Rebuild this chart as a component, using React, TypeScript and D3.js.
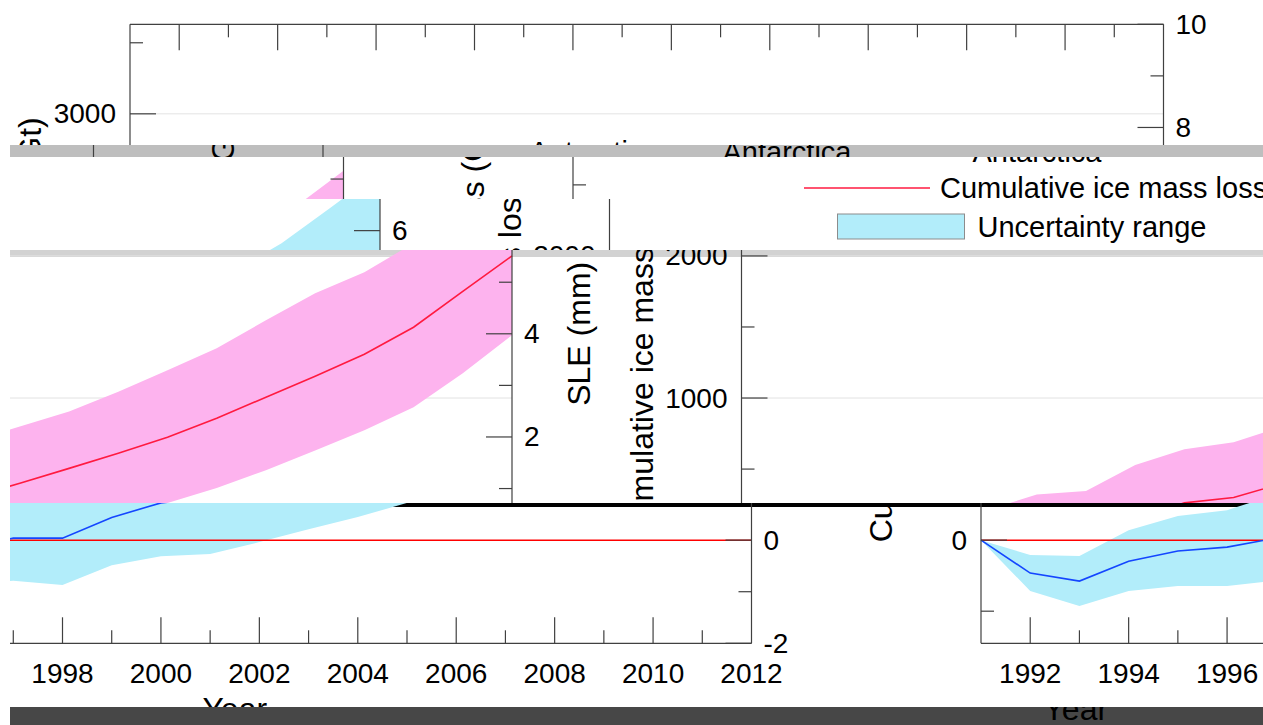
import React from "react";
import * as d3 from "d3";

// ---- data (Gt of cumulative ice mass loss, Antarctica) ----
const YEARS = [1991, 1992, 1993, 1994, 1995, 1996, 1997, 1998, 1999, 2000, 2001, 2002, 2003, 2004, 2005, 2006, 2007, 2008, 2009, 2010, 2011, 2012];
const MASS_LOSS = [0, -232, -288, -148, -77, -49, 14, 14, 160, 262, 300, 400, 505, 612, 724, 858, 1006, 1153, 1308, 1498, 1751, 2000];
const LOWER = [0, -358, -464, -358, -323, -323, -285, -316, -176, -113, -98, -14, 77, 162, 262, 366, 492, 630, 774, 935, 1174, 1442];
const UPPER = [0, -105, -112, 70, 169, 211, 322, 345, 528, 640, 689, 800, 905, 1045, 1195, 1350, 1547, 1737, 1885, 2090, 2340, 2600];

const YEAR_LABELS = [1992, 1994, 1996, 1998, 2000, 2002, 2004, 2006, 2008, 2010, 2012];
const GT_MAJOR = [0, 1000, 2000, 3000];
const GT_MINOR = [-500, 500, 1500, 2500, 3500];
const SLE_MAJOR = [-2, 0, 2, 4, 6, 8, 10];
const SLE_MINOR = [-1, 1, 3, 5, 7, 9];

const TITLE = "Antarctica";
const LINE_LABEL = "Cumulative ice mass loss";
const BAND_LABEL = "Uncertainty range";
const Y_LEFT_LABEL = "Cumulative ice mass loss (Gt)";
const Y_RIGHT_LABEL = "SLE (mm)";
const X_LABEL = "Year";

// ---- layout ----
const W = 1263;
const H = 725;
const FONT = "'Liberation Sans', Arial, Helvetica, sans-serif";
const AXIS = "#404040";
const MAJOR = 26;
const MINOR = 13;

const x = d3.scaleLinear().domain([1991, 2012]).range([130, 1163.5]);
const ySle = d3.scaleLinear().domain([-2, 10]).range([643.3, 24.3]);
const yGt = d3.scaleLinear().domain([-2 * 363, 10 * 363]).range([643.3, 24.3]);

type Row = { yr: number; mid: number; lo: number; hi: number };
const rows: Row[] = YEARS.map((yr, i) => ({ yr, mid: MASS_LOSS[i], lo: LOWER[i], hi: UPPER[i] }));

const bandPath = d3
  .area<Row>()
  .x((d) => x(d.yr))
  .y0((d) => yGt(d.lo))
  .y1((d) => yGt(d.hi))(rows) as string;
const linePath = d3
  .line<Row>()
  .x((d) => x(d.yr))
  .y((d) => yGt(d.mid))(rows) as string;

type Palette = { band: string; line: string };
const PINK: Palette = { band: "#fdb3ee", line: "#ff1a40" };
const CYAN: Palette = { band: "#b2edfa", line: "#1446ff" };

// horizontal bands of the figure, each rolled sideways by its own offset
const STRIPS = [
  { y0: 0, y1: 145, shift: 0, x0: 0, bg: "", pal: CYAN },
  { y0: 145, y1: 157, shift: 193, x0: 10, bg: "#bebebe", pal: CYAN },
  { y0: 157, y1: 199, shift: 443, x0: 10, bg: "", pal: PINK },
  { y0: 199, y1: 250, shift: 479.5, x0: 10, bg: "", pal: CYAN },
  { y0: 250, y1: 257, shift: 611.5, x0: 10, bg: "#d2d2d2", pal: PINK },
  { y0: 257, y1: 503, shift: 611.5, x0: 10, bg: "", pal: PINK },
  { y0: 503, y1: 507, shift: 851, x0: 10, bg: "#000000", pal: CYAN },
  { y0: 507, y1: 707, shift: 851, x0: 10, bg: "", pal: CYAN },
  { y0: 707, y1: 725, shift: 429, x0: 10, bg: "#474747", pal: CYAN },
];

type Win = { x0: number; x1: number; y0: number; y1: number };
const hits = (w: Win, bx0: number, bx1: number, by0: number, by1: number) =>
  bx1 > w.x0 && bx0 < w.x1 && by1 > w.y0 && by0 < w.y1;

function Chart({ pal, win }: { pal: Palette; win: Win }) {
  const [xl, xr] = x.range();
  const yTop = ySle(10);
  const yBot = ySle(-2);
  const midY = (yTop + yBot) / 2;
  const show = (bx0: number, bx1: number, by0: number, by1: number) => hits(win, bx0, bx1, by0, by1);
  return (
    <g fontFamily={FONT} fill="#000">
      {/* grid */}
      {GT_MAJOR.filter((v) => v !== 0).map((v) => (
        <line key={"g" + v} x1={xl} x2={xr} y1={yGt(v)} y2={yGt(v)} stroke="#e3e3e3" strokeWidth={1} />
      ))}
      {/* uncertainty band and series */}
      <path d={bandPath} fill={pal.band} stroke="none" />
      <line x1={xl} x2={xr} y1={yGt(0)} y2={yGt(0)} stroke="#ff0000" strokeWidth={1.5} />
      <path d={linePath} fill="none" stroke={pal.line} strokeWidth={1.6} />
      {/* axes box */}
      <g stroke={AXIS} strokeWidth={1.2} fill="none">
        <line x1={xl} x2={xl} y1={yTop} y2={yBot} />
        <line x1={xr} x2={xr} y1={yTop} y2={yBot} />
        <line x1={xl} x2={xr} y1={yTop} y2={yTop} />
        <line x1={xl} x2={xr} y1={yBot} y2={yBot} />
        {YEARS.slice(1, -1).map((yr) => {
          const len = yr % 2 === 0 ? MAJOR : MINOR;
          return (
            <g key={"t" + yr}>
              <line x1={x(yr)} x2={x(yr)} y1={yBot} y2={yBot - len} />
              <line x1={x(yr)} x2={x(yr)} y1={yTop} y2={yTop + len} />
            </g>
          );
        })}
        {GT_MAJOR.map((v) => (
          <line key={"gm" + v} x1={xl} x2={xl + MAJOR} y1={yGt(v)} y2={yGt(v)} />
        ))}
        {GT_MINOR.map((v) => (
          <line key={"gn" + v} x1={xl} x2={xl + MINOR} y1={yGt(v)} y2={yGt(v)} />
        ))}
        {SLE_MAJOR.map((v) => (
          <line key={"sm" + v} x1={xr} x2={xr - MAJOR} y1={ySle(v)} y2={ySle(v)} />
        ))}
        {SLE_MINOR.map((v) => (
          <line key={"sn" + v} x1={xr} x2={xr - MINOR} y1={ySle(v)} y2={ySle(v)} />
        ))}
      </g>
      {/* tick labels */}
      <g fontSize={28}>
        {YEAR_LABELS.filter((yr) => show(x(yr) - 32, x(yr) + 32, 658, 690)).map((yr) => (
          <text key={"yl" + yr} x={x(yr)} y={683} textAnchor="middle">
            {yr}
          </text>
        ))}
        {GT_MAJOR.filter((v) => show(48, 117, yGt(v) - 12, yGt(v) + 12)).map((v) => (
          <text key={"gl" + v} x={xl - 14} y={yGt(v)} textAnchor="end" dominantBaseline="central">
            {v}
          </text>
        ))}
        {SLE_MAJOR.filter((v) => show(xr + 10, xr + 46, ySle(v) - 12, ySle(v) + 12)).map((v) => (
          <text key={"sl" + v} x={xr + 12} y={ySle(v)} textAnchor="start" dominantBaseline="central">
            {v}
          </text>
        ))}
      </g>
      {/* axis titles */}
      <g fontSize={32}>
        {show(12, 50, midY - 222, midY + 214) && (
          <text transform={`translate(41,${midY - 4}) rotate(-90)`} textAnchor="middle">
            {Y_LEFT_LABEL}
          </text>
        )}
        {show(1212, 1252, midY - 75, midY + 75) && (
          <text transform={`translate(1241,${midY}) rotate(-90)`} textAnchor="middle">
            {Y_RIGHT_LABEL}
          </text>
        )}
        {show((xl + xr) / 2 - 40, (xl + xr) / 2 + 40, 694, 728) && (
          <text x={(xl + xr) / 2} y={720} textAnchor="middle">
            {X_LABEL}
          </text>
        )}
      </g>
      {/* legend */}
      <g fontSize={29}>
        {show(528, 660, 138, 168) && (
          <text x={594} y={162} textAnchor="middle">
            {TITLE}
          </text>
        )}
        <line x1={361} x2={487} y1={188} y2={188} stroke={pal.line} strokeWidth={1.6} />
        {show(497, 830, 175, 203) && (
          <text x={497} y={188} dominantBaseline="central">
            {LINE_LABEL}
          </text>
        )}
        <rect x={358} y={214} width={127} height={25} fill={pal.band} stroke="#8c8c8c" strokeWidth={1} />
        {show(498, 730, 213, 243) && (
          <text x={498} y={227} dominantBaseline="central">
            {BAND_LABEL}
          </text>
        )}
      </g>
    </g>
  );
}

export default function App() {
  return (
    <>
      <style>{`html,body{margin:0;padding:0;background:#fff;overflow:hidden}`}</style>
      <svg width={W} height={H} viewBox={`0 0 ${W} ${H}`} style={{ display: "block" }}>
        <defs>
          {STRIPS.map((s, i) => (
            <clipPath id={`strip-${i}`} key={i}>
              <rect x={s.x0} y={s.y0} width={W - s.x0} height={s.y1 - s.y0} />
            </clipPath>
          ))}
        </defs>
        <rect x={0} y={0} width={W} height={H} fill="#fff" />
        {STRIPS.map((s, i) => {
          const offsets = s.shift !== 0 ? [s.shift, s.shift - W] : [0];
          return (
            <g key={i} clipPath={`url(#strip-${i})`}>
              {s.bg && <rect x={s.x0} y={s.y0} width={W - s.x0} height={s.y1 - s.y0} fill={s.bg} />}
              {offsets.map((o) => (
                <g key={o} transform={`translate(${o},0)`}>
                  <Chart pal={s.pal} win={{ x0: s.x0 - o, x1: W - o, y0: s.y0, y1: s.y1 }} />
                </g>
              ))}
            </g>
          );
        })}
      </svg>
    </>
  );
}
